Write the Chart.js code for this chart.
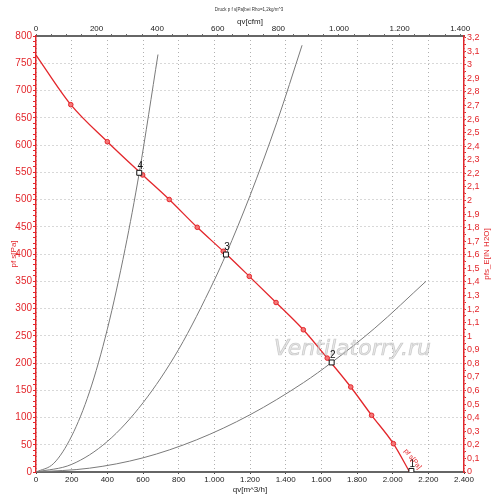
<!DOCTYPE html>
<html>
<head>
<meta charset="utf-8">
<script src="https://cdn.jsdelivr.net/npm/chart.js@4.4.1/dist/chart.umd.min.js"></script>
<style>
  html, body { margin: 0; padding: 0; background: #fff; }
  #wrap { width: 500px; height: 499px; }
</style>
</head>
<body>
<div id="wrap"><canvas id="chart"></canvas></div>
<script>
// fan curve (qv m^3/h -> pf s Pa)
const fanQ = [0, 195, 400, 598, 747, 904, 1050, 1196, 1346, 1499, 1633, 1765, 1882, 2004, 2095];
const fanP = [765, 674, 606, 545, 500, 449, 405, 359, 311, 261, 209, 156, 104, 52, 0];

// system curves through the operating points
const sys4Q = [0, 100, 200, 300, 400, 500, 579, 684];
const sys4P = [0, 16, 66, 147, 262, 410, 549, 766];
const sys3Q = [0, 200, 400, 600, 800, 1000, 1065, 1200, 1350, 1492];
const sys3P = [0, 14, 56, 127, 225, 352, 399, 507, 641, 783];
const sys2Q = [0, 300, 600, 900, 1200, 1500, 1658, 1900, 2187];
const sys2P = [0, 7, 26, 59, 105, 164, 201, 264, 350];

// operating points
const opQ = [2105, 1658, 1065, 579];
const opP = [2, 201, 399, 549];
const opLabels = ['1', '2', '3', '4'];

// axes
const qvMax = 2400;          // m^3/h
const cfmPerQv = 1 / 1.699;  // 1 cfm = 1.699 m^3/h
const cfmTop = 1400;         // last labelled cfm tick
const paMax = 800;
const paPerInH2O = 249.09;
const inH2OTop = 3.2;        // last labelled inH2O tick

const header = 'Druck p f s[Pa]bei Rho=1,2kg/m^3';
const watermark = 'Ventilatorry.ru';
const curveName = 'pf s[Pa]';

const RED = '#e3262b';
const GRID = '#b0b0b0';
const DOTS = [1, 3];
const FONT = '"Liberation Sans", Arial, sans-serif';

const toXY = (qs, ps) => qs.map((q, i) => ({ x: q, y: ps[i] }));
const fmtThousand = (v) => v >= 1000 ? Math.floor(v / 1000) + '.' + String(v % 1000).padStart(3, '0') : String(v);
// tick list 0..top in fixed steps (steps in integer units to dodge float drift)
const tickList = (top, step, unit) => {
  const out = [];
  for (let i = 0; i * step <= top * unit + 1e-6; i++) out.push({ value: (i * step) / unit });
  return out;
};

const extraText = {
  id: 'extraText',
  afterDraw(chart) {
    const { ctx, scales: { x, y } } = chart;
    ctx.save();

    // header line
    ctx.font = '4.5px ' + FONT;
    ctx.fillStyle = '#333';
    ctx.textAlign = 'center';
    ctx.textBaseline = 'middle';
    ctx.fillText(header, 249, 10);

    // right axis title, reads bottom to top
    ctx.save();
    ctx.translate(487, (chart.chartArea.top + chart.chartArea.bottom) / 2);
    ctx.rotate(-Math.PI / 2);
    ctx.font = '8px ' + FONT;
    ctx.fillStyle = RED;
    ctx.fillText('pfs_E[IN H2O]', 0, 0);
    ctx.restore();

    // watermark
    ctx.font = 'oblique 22px "DejaVu Sans"';
    ctx.fillStyle = 'rgba(215,215,215,0.6)';
    ctx.strokeStyle = 'rgba(150,150,150,0.45)';
    ctx.lineWidth = 0.7;
    const wx = x.getPixelForValue(1775), wy = y.getPixelForValue(226);
    ctx.fillText(watermark, wx, wy);
    ctx.strokeText(watermark, wx, wy);

    // operating point numbers
    ctx.font = '10px ' + FONT;
    ctx.fillStyle = '#111';
    opQ.forEach((q, i) => {
      ctx.fillText(opLabels[i], x.getPixelForValue(q) + 1, y.getPixelForValue(opP[i]) - 7);
    });

    // curve name along the last fan segment
    const n = fanQ.length;
    const x1 = x.getPixelForValue(fanQ[n - 2]), y1 = y.getPixelForValue(fanP[n - 2]);
    const x2 = x.getPixelForValue(fanQ[n - 1]), y2 = y.getPixelForValue(fanP[n - 1]);
    const ang = Math.atan2(y2 - y1, x2 - x1);
    const tx = x1 + 0.7 * (x2 - x1) + 9 * Math.sin(ang);
    const ty = y1 + 0.7 * (y2 - y1) - 9 * Math.cos(ang);
    ctx.translate(tx, ty);
    ctx.rotate(ang - 0.15);
    ctx.font = '7px ' + FONT;
    ctx.fillStyle = RED;
    ctx.fillText(curveName, 0, 0);

    ctx.restore();
  }
};

const grayLine = (data) => ({
  data,
  showLine: true,
  borderColor: '#7a7a7a',
  borderWidth: 1,
  pointRadius: 0,
  cubicInterpolationMode: 'monotone',
  order: 3
});

new Chart(document.getElementById('chart'), {
  type: 'scatter',
  data: {
    datasets: [
      grayLine(toXY(sys4Q, sys4P)),
      grayLine(toXY(sys3Q, sys3P)),
      grayLine(toXY(sys2Q, sys2P)),
      {
        data: toXY(fanQ, fanP),
        showLine: true,
        borderColor: RED,
        borderWidth: 1.3,
        cubicInterpolationMode: 'monotone',
        pointRadius: (c) => (c.dataIndex === 0 || c.dataIndex === fanQ.length - 1) ? 0 : 2.3,
        pointBackgroundColor: '#f47878',
        pointBorderColor: RED,
        pointBorderWidth: 1,
        order: 2
      },
      {
        data: toXY(opQ, opP),
        pointStyle: 'rect',
        pointRadius: 3.5,
        pointBackgroundColor: '#fff',
        pointBorderColor: '#111',
        pointBorderWidth: 1,
        order: 1
      }
    ]
  },
  options: {
    responsive: true,
    maintainAspectRatio: false,
    animation: false,
    layout: { padding: 0 },
    plugins: {
      legend: { display: false },
      tooltip: { enabled: false }
    },
    scales: {
      x: {
        type: 'linear',
        position: 'bottom',
        min: 0,
        max: qvMax,
        afterFit: (s) => { s.height = 27; },
        ticks: {
          stepSize: 200,
          autoSkip: false,
          maxRotation: 0,
          padding: 1,
          color: '#222',
          font: { family: FONT, size: 8 },
          callback: (v) => fmtThousand(v)
        },
        grid: { color: GRID, lineWidth: 1, tickLength: 2, tickColor: '#444', borderDash: DOTS },
        border: { display: true, color: '#666', width: 2, dash: DOTS },
        title: {
          display: true, text: 'qv[m^3/h]', color: '#222',
          font: { family: FONT, size: 8 }, padding: { top: 0, bottom: 4 }
        }
      },
      x2: {
        type: 'linear',
        position: 'top',
        min: 0,
        max: qvMax * cfmPerQv,
        afterFit: (s) => { s.height = 36; },
        afterBuildTicks: (s) => { s.ticks = tickList(cfmTop, 50, 1); },
        ticks: {
          autoSkip: false,
          maxRotation: 0,
          padding: 0,
          color: '#222',
          font: { family: FONT, size: 8 },
          callback: (v) => (Math.round(v) % 200 === 0) ? fmtThousand(Math.round(v)) : ''
        },
        grid: { drawOnChartArea: false, tickLength: 2, tickColor: '#666' },
        border: { display: true, color: '#666', width: 2 },
        title: {
          display: true, text: 'qv[cfm]', color: '#222',
          font: { family: FONT, size: 8 }, padding: { top: 17, bottom: 0 }
        }
      },
      y: {
        type: 'linear',
        position: 'left',
        min: 0,
        max: paMax,
        afterFit: (s) => { s.width = 36; },
        ticks: {
          stepSize: 10,
          autoSkip: false,
          padding: 1,
          color: RED,
          font: { family: FONT, size: 10 },
          callback: (v) => v % 50 === 0 ? String(v) : ''
        },
        grid: {
          color: (c) => (c.tick && c.tick.value % 50 === 0) ? GRID : 'rgba(0,0,0,0)',
          tickColor: RED,
          tickLength: 3,
          borderDash: DOTS
        },
        border: { display: true, color: RED, width: 1.5, dash: DOTS },
        title: {
          display: true, text: 'pf s[Pa]', color: RED,
          font: { family: FONT, size: 8 }, padding: { top: 9, bottom: 0 }
        }
      },
      y2: {
        type: 'linear',
        position: 'right',
        min: 0,
        max: paMax / paPerInH2O,
        afterFit: (s) => { s.width = 36; },
        afterBuildTicks: (s) => { s.ticks = tickList(inH2OTop, 5, 100); },
        ticks: {
          autoSkip: false,
          padding: 1,
          color: RED,
          font: { family: FONT, size: 9 },
          callback: (v) => {
            const r = Math.round(v * 100);
            return r % 10 === 0 ? String(r / 100).replace('.', ',') : '';
          }
        },
        grid: { drawOnChartArea: false, tickColor: RED, tickLength: 2 },
        border: { display: true, color: RED, width: 1.5 }
      }
    }
  },
  plugins: [extraText]
});
</script>
</body>
</html>
